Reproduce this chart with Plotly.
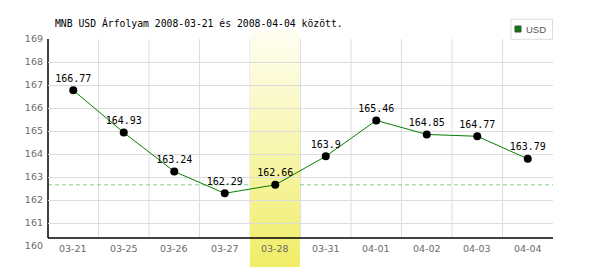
import plotly.graph_objects as go

# ---- data ----
categories = ["03-21", "03-25", "03-26", "03-27", "03-28",
              "03-31", "04-01", "04-02", "04-03", "04-04"]
usd_values = [166.77, 164.93, 163.24, 162.29, 162.66,
              163.9, 165.46, 164.85, 164.77, 163.79]
value_labels = ["166.77", "164.93", "163.24", "162.29", "162.66",
                "163.9", "165.46", "164.85", "164.77", "163.79"]
highlight_index = 4
series_name = "USD"
title_text = "MNB USD Árfolyam 2008-03-21 és 2008-04-04 között."
y_min, y_max = 160, 169

W, H = 600, 270
ML, MR, MT, MB = 48, 47, 39, 24
plot_h = H - MT - MB

def py(px):
    """convert pixel y (from top) to paper coordinate"""
    return (H - MB - px) / plot_h

def px_x(px):
    return (px - ML) / (W - ML - MR)

GREEN = "#008000"
GRID = "#dddddd"
TICK_FONT = dict(family="DejaVu Sans", size=9.5, color="#6a6a6a")

fig = go.Figure()
fig.add_trace(go.Scatter(
    x=categories, y=usd_values, mode="lines+markers+text",
    text=value_labels, textposition="top center",
    textfont=dict(family="DejaVu Sans Mono", size=10, color="black"),
    line=dict(color=GREEN, width=1),
    marker=dict(color="black", size=8),
    name=series_name, showlegend=False, hoverinfo="x+y",
))

axis_y = py(238)
shapes = []
# vertical grid lines at category boundaries (stop at the x axis line)
for i in range(len(categories) - 1):
    shapes.append(dict(type="line", xref="x", yref="paper", layer="below",
                       x0=i + 0.5, x1=i + 0.5, y0=axis_y, y1=1,
                       line=dict(color=GRID, width=1)))

# dashed reference line at highlighted value (drawn under band)
shapes.append(dict(type="line", xref="paper", yref="y", layer="between",
                   x0=0, x1=1, y0=usd_values[highlight_index], y1=usd_values[highlight_index],
                   line=dict(color="#88cc88", width=1, dash="4px,3px")))

# gradient band
top_c = (254, 254, 242)
bot_c = (240, 237, 102)
band_top = py(30)
band_bot = py(267)
N = 60
for i in range(N):
    t = i / N
    ytop = band_top + (band_bot - band_top) * t
    c = tuple(round(top_c[k] + (bot_c[k] - top_c[k]) * t) for k in range(3))
    shapes.append(dict(type="rect", xref="x", yref="paper", layer="between",
                       x0=highlight_index - 0.485, x1=highlight_index + 0.485,
                       y0=band_bot, y1=ytop,
                       fillcolor="rgb(%d,%d,%d)" % c, line=dict(width=0)))

# black axis lines
shapes.append(dict(type="line", xref="paper", yref="paper", layer="between",
                   x0=0, x1=1, y0=axis_y, y1=axis_y, line=dict(color="black", width=1.5)))
shapes.append(dict(type="line", xref="paper", yref="paper", layer="between",
                   x0=0, x1=0, y0=axis_y, y1=1, line=dict(color="black", width=1.5)))

# legend box
shapes.append(dict(type="rect", xref="paper", yref="paper",
                   x0=px_x(511), x1=px_x(552.5), y0=py(39.3), y1=py(19.3),
                   fillcolor="white", line=dict(color=GRID, width=1)))
shapes.append(dict(type="rect", xref="paper", yref="paper",
                   x0=px_x(515), x1=px_x(521), y0=py(32), y1=py(26),
                   fillcolor=GREEN, line=dict(color="#444444", width=1)))

annotations = [
    dict(text=title_text, xref="paper", yref="paper", x=px_x(53), y=py(23),
         xanchor="left", yanchor="middle", showarrow=False,
         font=dict(family="DejaVu Sans Mono", size=9.75, color="black")),
    dict(text=series_name, xref="paper", yref="paper", x=px_x(524), y=py(29.5),
         xanchor="left", yanchor="middle", showarrow=False,
         font=dict(family="Liberation Sans", size=9.5, color="#555555")),
]
for i, c in enumerate(categories):
    annotations.append(dict(
        text=c, xref="x", yref="paper", x=c, y=py(248.5),
        xanchor="center", yanchor="middle", showarrow=False,
        bgcolor="rgba(0,0,0,0)" if i == highlight_index else "white",
        borderpad=1, font=TICK_FONT))

fig.update_layout(
    width=W, height=H,
    margin=dict(l=ML, r=MR, t=MT, b=MB, pad=0),
    paper_bgcolor="white", plot_bgcolor="white",
    showlegend=False,
    shapes=shapes, annotations=annotations,
    xaxis=dict(type="category", range=[-0.5, len(categories) - 0.5],
               showgrid=False, showticklabels=False, ticks="",
               showline=False, zeroline=False, fixedrange=True),
    yaxis=dict(range=[y_min, y_max], dtick=1, showgrid=True, gridcolor=GRID, gridwidth=1,
               tickfont=TICK_FONT, ticks="", ticklabelstandoff=4,
               showline=False, zeroline=False, fixedrange=True),
)

fig.write_html("out.html", config={"displayModeBar": False})
